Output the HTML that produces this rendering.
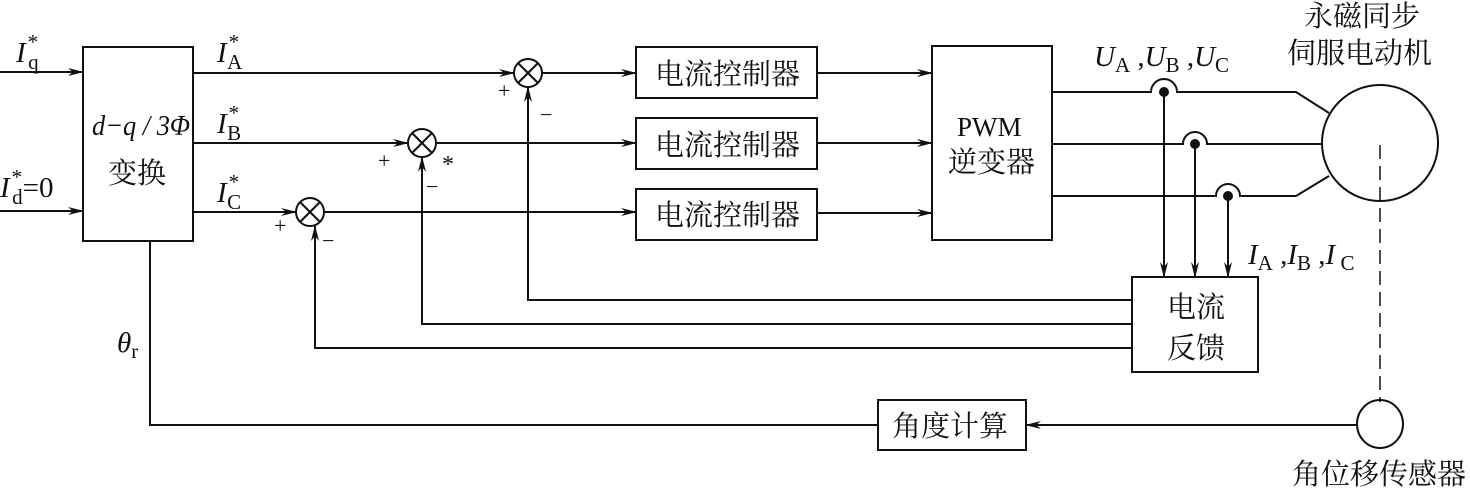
<!DOCTYPE html>
<html><head><meta charset="utf-8"><style>
html,body{margin:0;padding:0;background:#fff;}
svg{display:block;}
text{font-family:"Liberation Serif","Noto Serif CJK SC",serif;fill:#111;}
.cn{font-family:"Liberation Serif","Noto Serif CJK SC",serif;font-size:29px;}
.it{font-style:italic;font-size:29px;}
.sub{font-size:21px;font-style:normal;}
</style></head><body>
<svg width="1470" height="492" viewBox="0 0 1470 492" xmlns="http://www.w3.org/2000/svg">
<defs>
<marker id="a" markerWidth="16" markerHeight="8" refX="15" refY="4" orient="auto" markerUnits="userSpaceOnUse">
<path d="M0,0 L16,4 L0,8 L5,4 Z" fill="#111"/></marker>
</defs>
<g stroke="#111" stroke-width="2" fill="none">
<line x1="0" y1="72" x2="83" y2="72" marker-end="url(#a)"/>
<line x1="0" y1="211" x2="83" y2="211" marker-end="url(#a)"/>
<rect x="83" y="47" width="110" height="194"/>
<line x1="193" y1="73" x2="514" y2="73" marker-end="url(#a)"/>
<circle cx="528" cy="73" r="14"/><line x1="518" y1="63" x2="538" y2="83"/><line x1="538" y1="63" x2="518" y2="83"/>
<line x1="542" y1="73" x2="636" y2="73" marker-end="url(#a)"/>
<line x1="193" y1="143" x2="408" y2="143" marker-end="url(#a)"/>
<circle cx="422" cy="143" r="14"/><line x1="412" y1="133" x2="432" y2="153"/><line x1="432" y1="133" x2="412" y2="153"/>
<line x1="436" y1="143" x2="636" y2="143" marker-end="url(#a)"/>
<line x1="193" y1="212" x2="296" y2="212" marker-end="url(#a)"/>
<circle cx="310" cy="212" r="14"/><line x1="300" y1="202" x2="320" y2="222"/><line x1="320" y1="202" x2="300" y2="222"/>
<line x1="324" y1="212" x2="636" y2="212" marker-end="url(#a)"/>
<rect x="636" y="47" width="181" height="51"/>
<rect x="636" y="118" width="181" height="51"/>
<rect x="636" y="189" width="181" height="51"/>
<line x1="817" y1="73" x2="932" y2="73" marker-end="url(#a)"/>
<line x1="817" y1="143" x2="932" y2="143" marker-end="url(#a)"/>
<line x1="817" y1="213" x2="932" y2="213" marker-end="url(#a)"/>
<rect x="932" y="46" width="120" height="194"/>
<path d="M1052,92 H1151 A12,12 0 0 1 1177,92 H1296 L1329,113"/>
<path d="M1052,144 H1183 A12,12 0 0 1 1207,144 H1322"/>
<path d="M1052,196 H1216 A12,12 0 0 1 1240,196 H1296 L1329,176"/>
<circle cx="1380" cy="143" r="58"/>
<line x1="1380" y1="145" x2="1380" y2="402" stroke-dasharray="14,7" stroke-width="1.5"/>
<line x1="1164" y1="92" x2="1164" y2="277" marker-end="url(#a)"/>
<line x1="1195" y1="144" x2="1195" y2="277" marker-end="url(#a)"/>
<line x1="1228" y1="196" x2="1228" y2="277" marker-end="url(#a)"/>
<rect x="1132" y="277" width="126" height="95"/>
<path d="M1132,300 H528 V87" marker-end="url(#a)"/>
<path d="M1132,324 H422 V157" marker-end="url(#a)"/>
<path d="M1132,348 H315 V226" marker-end="url(#a)"/>
<path d="M150,241 V425 H878"/>
<rect x="878" y="400" width="148" height="50"/>
<line x1="1358" y1="425" x2="1026" y2="425" marker-end="url(#a)"/>
<ellipse cx="1380" cy="424" rx="23" ry="24"/>
</g>
<g fill="#111">
<circle cx="1164" cy="92" r="5"/><circle cx="1195" cy="144" r="5"/><circle cx="1228" cy="196" r="5"/>
</g>
<text x="16" y="62" class="it">I<tspan class="sub" dx="2" dy="-13">*</tspan><tspan class="sub" dx="-10" dy="20">q</tspan></text>
<text x="0" y="197" class="it">I<tspan class="sub" dx="2" dy="-13">*</tspan><tspan class="sub" dx="-10" dy="20">d</tspan><tspan dy="-7" style="font-style:normal">=0</tspan></text>
<text x="217" y="62" class="it">I<tspan class="sub" dx="2" dy="-13">*</tspan><tspan class="sub" dx="-12" dy="20">A</tspan></text>
<text x="217" y="133" class="it">I<tspan class="sub" dx="2" dy="-13">*</tspan><tspan class="sub" dx="-12" dy="20">B</tspan></text>
<text x="217" y="202" class="it">I<tspan class="sub" dx="2" dy="-13">*</tspan><tspan class="sub" dx="-12" dy="20">C</tspan></text>
<text x="92" y="135" class="it" textLength="98" lengthAdjust="spacingAndGlyphs">d−q / 3Φ</text>
<text x="108" y="183" class="cn">变换</text>
<text x="498" y="98" font-size="22">+</text><text x="540" y="122" font-size="22">−</text>
<text x="378" y="168" font-size="22">+</text><text x="442" y="172" font-size="24">*</text><text x="426" y="194" font-size="22">−</text>
<text x="274" y="233" font-size="22">+</text><text x="322" y="248" font-size="22">−</text>
<text x="655" y="84" class="cn">电流控制器</text>
<text x="655" y="155" class="cn">电流控制器</text>
<text x="655" y="225" class="cn">电流控制器</text>
<text x="957" y="136" font-size="27">PWM</text>
<text x="948" y="172" class="cn">逆变器</text>
<text x="1094" y="66" class="it">U<tspan class="sub" dy="6">A</tspan><tspan dy="-6" style="font-style:normal"> ,</tspan>U<tspan class="sub" dy="6">B</tspan><tspan dy="-6" style="font-style:normal"> ,</tspan>U<tspan class="sub" dy="6">C</tspan></text>
<text x="1304" y="26" class="cn">永磁同步</text>
<text x="1287" y="63" class="cn">伺服电动机</text>
<text x="1248" y="264" class="it">I<tspan class="sub" dy="6">A</tspan><tspan dy="-6" style="font-style:normal"> ,</tspan>I<tspan class="sub" dy="6">B</tspan><tspan dy="-6" style="font-style:normal"> ,</tspan>I<tspan class="sub" dy="6"> C</tspan></text>
<text x="1167" y="317" class="cn">电流</text>
<text x="1167" y="358" class="cn">反馈</text>
<text x="117" y="352" class="it">θ<tspan class="sub" dy="6">r</tspan></text>
<text x="892" y="436" class="cn">角度计算</text>
<text x="1292" y="484" class="cn">角位移传感器</text>
</svg>
</body></html>
